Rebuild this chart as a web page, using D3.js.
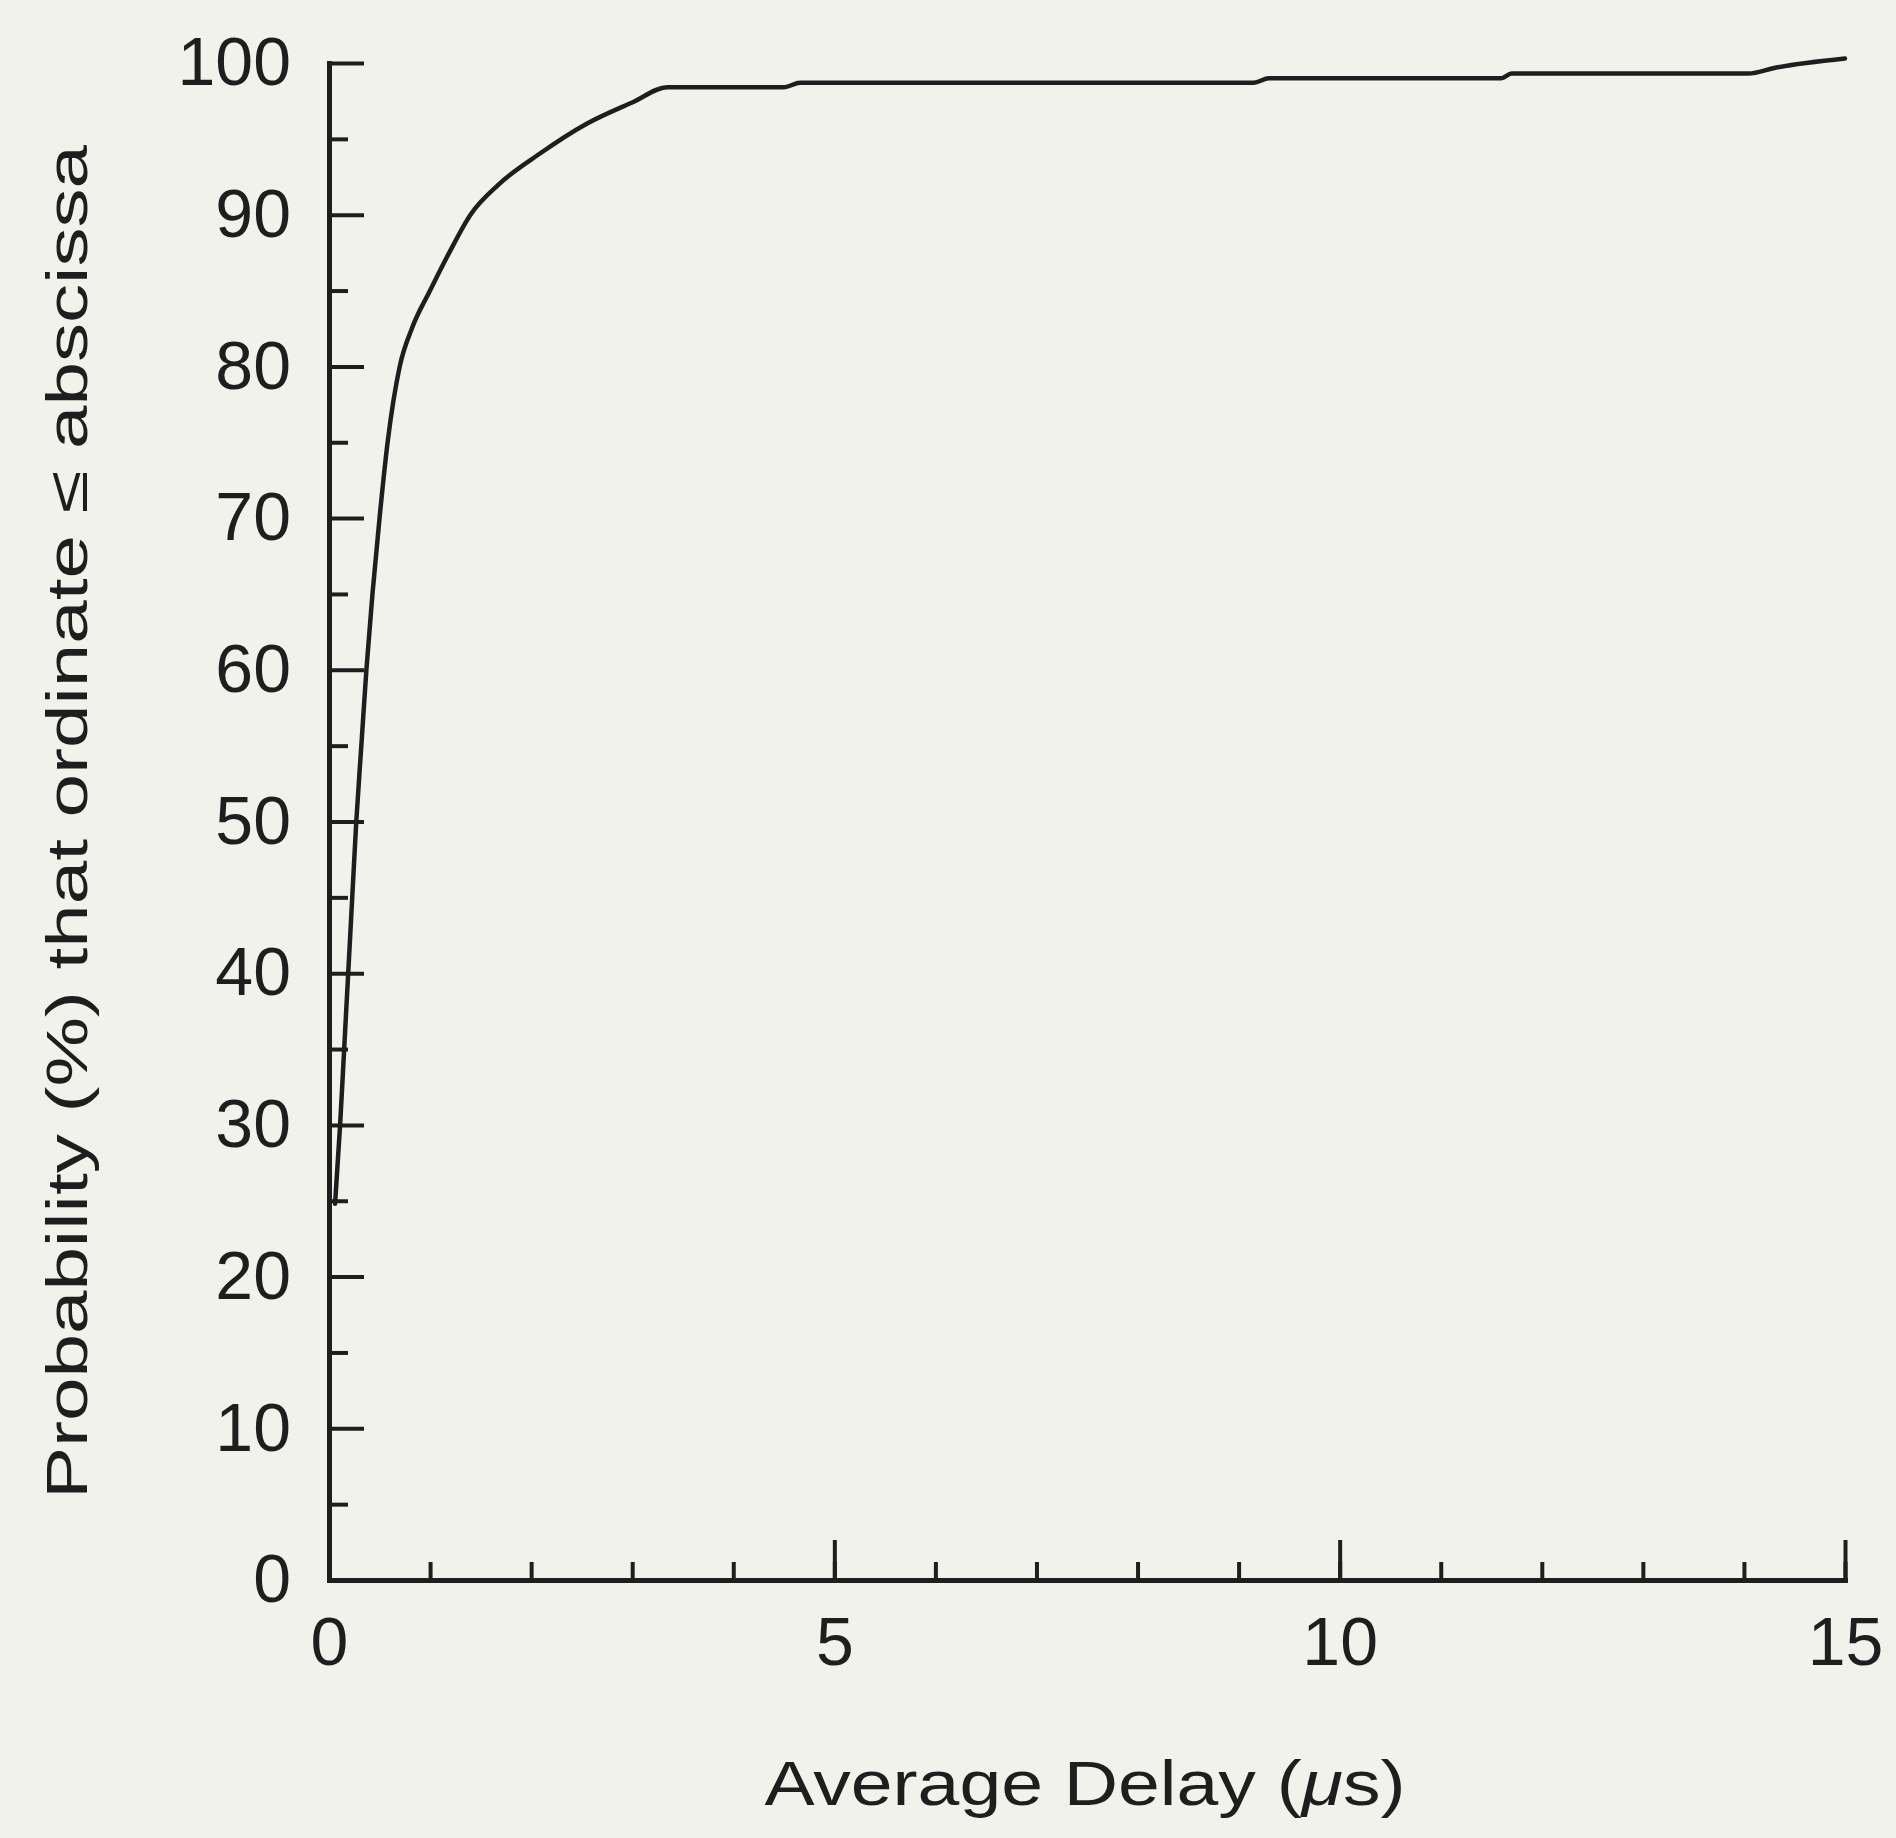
<!DOCTYPE html>
<html>
<head>
<meta charset="utf-8">
<script src="https://cdn.jsdelivr.net/npm/d3@7"></script>
<style>
  html, body { margin: 0; padding: 0; background: #f2f2ec; }
  svg { display: block; }
  text { font-family: "Liberation Sans", Arial, sans-serif; fill: #1e1e1e; }
</style>
</head>
<body>
<svg id="chart" width="1896" height="1838"></svg>
<script>
// ---- data ----
const delayUs = [0.06, 0.11, 0.15, 0.19, 0.23, 0.27, 0.32, 0.37, 0.43, 0.50, 0.58, 0.70, 0.82, 1.00, 1.19, 1.40, 1.68, 2.08, 2.55, 3.00, 3.35, 4.50, 4.66, 9.15, 9.30, 11.60, 11.70, 14.04, 14.32, 15.00];
const probability = [24.8, 30, 35, 40, 45, 50, 55, 60, 65, 70, 75, 80, 82.5, 85, 87.5, 90, 92, 94, 96, 97.4, 98.4, 98.4, 98.7, 98.7, 99.0, 99.0, 99.3, 99.3, 99.7, 100.3];
const xMajorTicks = [0, 5, 10, 15];
const xMinorTicks = [0,1,2,3,4,5,6,7,8,9,10,11,12,13,14,15];
const yMajorTicks = [0, 10, 20, 30, 40, 50, 60, 70, 80, 90, 100];
const yMinorTicks = [5, 15, 25, 35, 45, 55, 65, 75, 85, 95];
const xTitle = "Average Delay (";
const xTitleMu = "\u03bc";
const xTitleEnd = "s)";
const yTitle = "Probability (%) that ordinate \u2264 abscissa";

const svg = d3.select("#chart");
const ink = "#1e1e1e";

const x = d3.scaleLinear().domain([0, 15]).range([329, 1845]);
const y = d3.scaleLinear().domain([0, 100]).range([1580, 63]);

// x axis
svg.append("g").attr("transform", `translate(0,${y(0)})`)
  .call(d3.axisBottom(x).tickValues(xMinorTicks).tickSizeInner(-18).tickSizeOuter(0).tickFormat(""));
svg.append("g").attr("transform", `translate(0,${y(0)})`)
  .call(d3.axisBottom(x).tickValues(xMajorTicks).tickSizeInner(-40).tickSizeOuter(0).tickPadding(37).tickFormat(d3.format("d")));

// y axis
svg.append("g").attr("transform", `translate(${x(0)},0)`)
  .call(d3.axisLeft(y).tickValues(yMinorTicks).tickSizeInner(-19).tickSizeOuter(0).tickFormat(""));
svg.append("g").attr("transform", `translate(${x(0)},0)`)
  .call(d3.axisLeft(y).tickValues(yMajorTicks).tickSizeInner(-35).tickSizeOuter(0).tickPadding(38).tickFormat(d3.format("d")));

svg.selectAll(".domain").attr("stroke", ink).attr("stroke-width", 5).attr("stroke-linecap", "square");
svg.selectAll(".tick line").attr("stroke", ink).attr("stroke-width", 4);
svg.selectAll(".tick text").attr("font-size", 68).attr("fill", ink)
   .attr("font-family", "'Liberation Sans', Arial, sans-serif");

// curve
const line = d3.line().x((d, i) => x(delayUs[i])).y(d => y(d)).curve(d3.curveMonotoneX);
svg.append("path").datum(probability)
  .attr("d", line)
  .attr("fill", "none")
  .attr("stroke", ink)
  .attr("stroke-width", 4.5)
  .attr("stroke-linejoin", "round")
  .attr("stroke-linecap", "round");

// x title
const xt = svg.append("text")
  .attr("x", 1085).attr("y", 1805)
  .attr("text-anchor", "middle")
  .attr("font-size", 63)
  .attr("textLength", 641).attr("lengthAdjust", "spacingAndGlyphs");
xt.append("tspan").text(xTitle);
xt.append("tspan").attr("font-style", "italic").text(xTitleMu);
xt.append("tspan").text(xTitleEnd);

// y title
svg.append("text")
  .attr("transform", "translate(87,822) rotate(-90)")
  .attr("text-anchor", "middle")
  .attr("font-size", 57)
  .attr("textLength", 1354).attr("lengthAdjust", "spacingAndGlyphs")
  .text(yTitle);
</script>
</body>
</html>
